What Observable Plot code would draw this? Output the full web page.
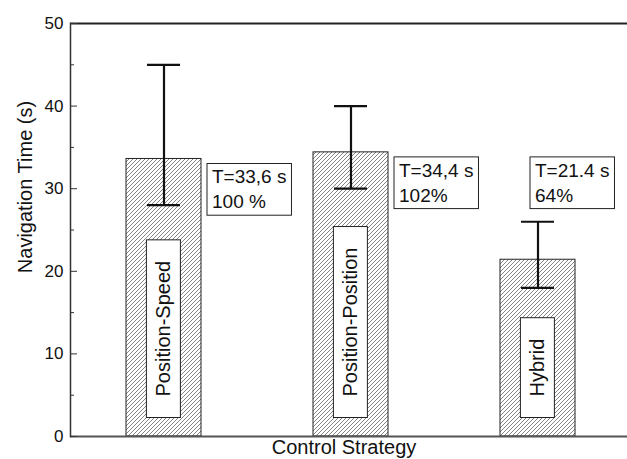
<!DOCTYPE html>
<html><head><meta charset="utf-8">
<script src="https://cdn.jsdelivr.net/npm/d3@7"></script>
<script src="https://cdn.jsdelivr.net/npm/@observablehq/plot@0.6"></script>
<style>
body{margin:0;background:#fff;}
svg{font-family:"Liberation Sans",Arial,sans-serif;}
</style>
</head><body><div id="chart"></div>
<script>
const strategies = ["Position-Speed", "Position-Position", "Hybrid"];
const meanTimes = [33.6, 34.4, 21.4];
const errLow = [28, 30, 18];
const errHigh = [45, 40, 26];
const notes = ["T=33,6 s\n100 %", "T=34,4 s\n102%", "T=21.4 s\n64%"];
const noteLevels = [33.6, 34.4, 34.4];
const yTicks = [0, 10, 20, 30, 40, 50];
const yMinorTicks = [5, 15, 25, 35, 45];

const data = strategies.map((name, i) => ({
  name, mean: meanTimes[i], lo: errLow[i], hi: errHigh[i], note: notes[i], level: noteLevels[i]
}));

const chart = Plot.plot({
  width: 627, height: 459,
  marginLeft: 70, marginRight: 0, marginTop: 23, marginBottom: 23,
  style: {fontFamily: "Liberation Sans, Arial, sans-serif", fontSize: "16px", color: "#111", background: "white", overflow: "visible"},
  x: {type: "band", domain: strategies, paddingInner: 0.6, paddingOuter: 0.289, align: 0.52, axis: null},
  y: {domain: [0, 50], axis: null},
  marks: [
    Plot.barY(data, {x: "name", y: "mean", fill: "url(#hatch)", stroke: "#222", strokeWidth: 1}),
    Plot.text(data, {x: "name", y: () => 0, text: "name", rotate: -90, textAnchor: "start", dy: -40, fontSize: 20, fill: "#111", className: "barlabel"}),
    Plot.ruleX(data, {x: "name", y1: "lo", y2: "hi", stroke: "#111", strokeWidth: 2.2}),
    Plot.tickY(data, {x: "name", y: "hi", insetLeft: 21, insetRight: 21, stroke: "#111", strokeWidth: 2.2}),
    Plot.tickY(data, {x: "name", y: "lo", insetLeft: 21, insetRight: 21, stroke: "#111", strokeWidth: 2.2}),
    Plot.text(data.slice(0, 2), {x: "name", y: "level", text: "note", textAnchor: "start", lineAnchor: "top", dx: 48, dy: 7, fontSize: 19, lineHeight: 1.3, fill: "#111", className: "note"}),
    Plot.text(data.slice(2), {x: "name", y: "level", text: "note", textAnchor: "start", lineAnchor: "top", dx: -3, dy: 7, fontSize: 19, lineHeight: 1.3, fill: "#111", className: "note"}),
    Plot.ruleY([0], {stroke: "#555", strokeWidth: 2}),
    Plot.ruleY([50], {stroke: "#222", strokeWidth: 2}),
    Plot.frame({anchor: "left", stroke: "#333", strokeWidth: 1.5}),
    Plot.axisY(yTicks, {tickSize: 0, tickPadding: 7, fontSize: 17}),
    Plot.axisY(yTicks, {tickSize: -7, tickFormat: () => "", stroke: "#333"}),
    Plot.axisY(yMinorTicks, {tickSize: -4, tickFormat: () => "", stroke: "#333"}),
    Plot.text(["Navigation Time (s)"], {frameAnchor: "left", textAnchor: "middle", rotate: -90, dx: -45, dy: -43, fontSize: 20, fill: "#111"}),
    Plot.text(["Control Strategy"], {frameAnchor: "bottom", lineAnchor: "top", dy: 3, dx: -5, fontSize: 20, fill: "#111"})
  ]
});

const NS = "http://www.w3.org/2000/svg";
const defs = document.createElementNS(NS, "defs");
defs.innerHTML = '<pattern id="hatch" patternUnits="userSpaceOnUse" width="4" height="4">' +
  '<rect width="4" height="4" fill="white"/>' +
  '<path d="M-1,1 l2,-2 M0,4 l4,-4 M3,5 l2,-2" stroke="#666" stroke-width="0.8"/></pattern>';
chart.insertBefore(defs, chart.firstChild);
document.getElementById("chart").append(chart);

function boxify(cls, px, py) {
  chart.querySelectorAll("." + cls + " text").forEach(t => {
    const b = t.getBBox();
    const r = document.createElementNS(NS, "rect");
    r.setAttribute("x", b.x - px);
    r.setAttribute("y", b.y - py);
    r.setAttribute("width", b.width + 2 * px);
    r.setAttribute("height", b.height + 2 * py);
    r.setAttribute("fill", "white");
    r.setAttribute("stroke", "#222");
    r.setAttribute("stroke-width", "1");
    const tr = t.getAttribute("transform");
    if (tr) r.setAttribute("transform", tr);
    t.parentNode.insertBefore(r, t);
  });
}
boxify("barlabel", 21, 6);
boxify("note", 5, 3);
</script>
</body></html>
